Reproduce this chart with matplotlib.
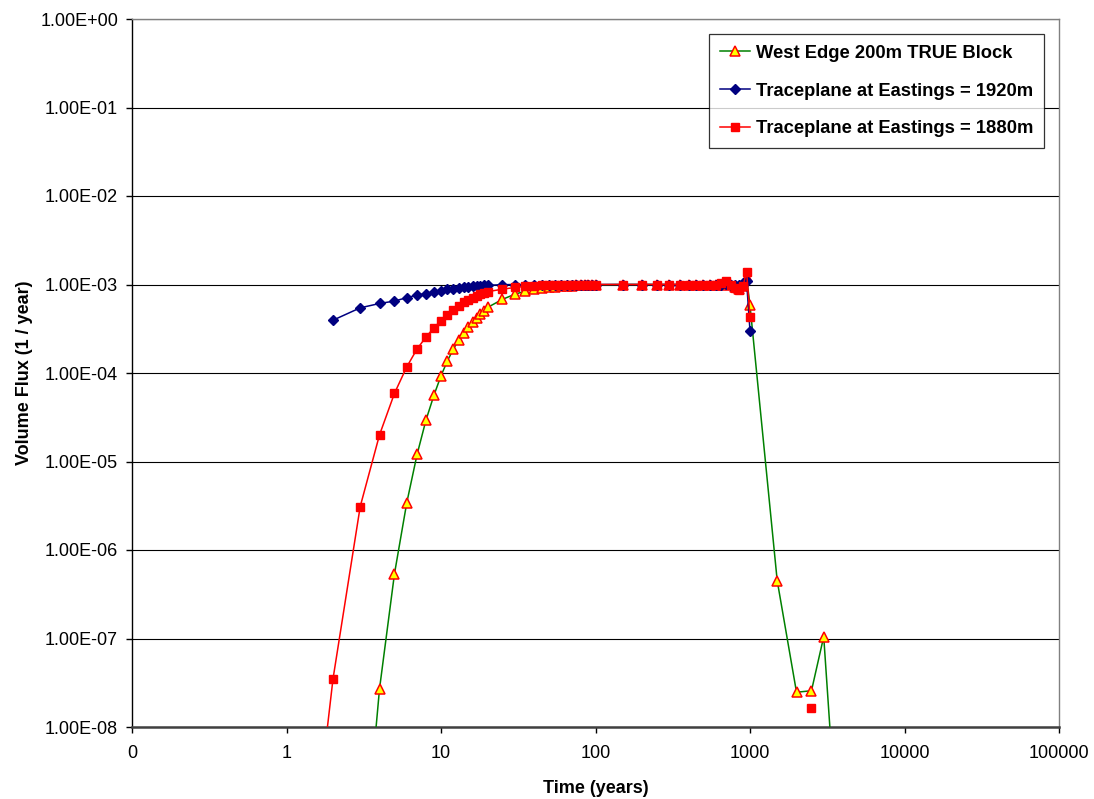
import numpy as np
import matplotlib
matplotlib.use("Agg")
import matplotlib.pyplot as plt
from matplotlib.ticker import FixedLocator, FuncFormatter, NullLocator

plt.rcParams["font.family"] = ["Liberation Sans", "DejaVu Sans"]

# ---- data -----------------------------------------------------------------
# West Edge 200m TRUE Block
t_west = [3, 4, 5, 6, 7, 8, 9, 10, 11, 12, 13, 14, 15, 16, 17, 18, 19, 20,
          25, 30, 35, 40, 45, 50, 55, 60, 65, 70, 75, 80, 85, 90, 95, 100,
          150, 200, 250, 300, 350, 400, 450, 500, 550, 600, 650, 700, 750,
          800, 850, 900, 950, 1000, 1500, 2000, 2500, 3000, 3500]
flux_west = [1.0e-10, 2.7e-8, 5.4e-7, 3.4e-6, 1.2e-5, 2.95e-5, 5.6e-5, 9.3e-5,
             1.37e-4, 1.85e-4, 2.36e-4, 2.85e-4, 3.33e-4, 3.8e-4, 4.2e-4,
             4.6e-4, 5.0e-4, 5.5e-4,
             6.8e-4, 7.75e-4, 8.4e-4, 8.8e-4, 9.1e-4, 9.3e-4, 9.45e-4, 9.55e-4,
             9.65e-4, 9.7e-4, 9.75e-4, 9.8e-4, 9.85e-4, 9.88e-4, 9.9e-4, 9.92e-4,
             1.0e-3, 1.0e-3, 1.0e-3, 1.0e-3, 1.0e-3, 1.0e-3, 1.0e-3, 1.0e-3,
             1.0e-3, 1.0e-3, 1.0e-3, 1.05e-3, 1.0e-3, 9.3e-4, 9.0e-4, 9.6e-4,
             1.2e-3, 5.8e-4, 4.5e-7, 2.47e-8, 2.57e-8, 1.05e-7, 2.0e-9]

# Traceplane at Eastings = 1920m
t_1920 = [2, 3, 4, 5, 6, 7, 8, 9, 10, 11, 12, 13, 14, 15, 16, 17, 18, 19, 20,
          25, 30, 35, 40, 45, 50, 55, 60, 65, 70, 75, 80, 85, 90, 95, 100,
          150, 200, 250, 300, 350, 400, 450, 500, 550, 600, 650, 700, 750,
          800, 850, 900, 950, 1000]
flux_1920 = [3.95e-4, 5.45e-4, 6.1e-4, 6.5e-4, 7.1e-4, 7.6e-4, 7.9e-4, 8.3e-4,
             8.55e-4, 8.8e-4, 8.9e-4, 9.1e-4, 9.25e-4, 9.4e-4, 9.5e-4, 9.6e-4,
             9.65e-4, 9.75e-4, 9.8e-4,
             9.95e-4, 1.0e-3, 1.0e-3, 1.0e-3, 1.0e-3, 1.0e-3, 1.0e-3, 1.0e-3,
             1.0e-3, 1.0e-3, 1.0e-3, 1.0e-3, 1.0e-3, 1.0e-3, 1.0e-3, 1.0e-3,
             1.0e-3, 1.0e-3, 1.0e-3, 1.0e-3, 1.0e-3, 1.0e-3, 1.0e-3, 1.0e-3,
             1.0e-3, 1.0e-3, 1.0e-3, 1.02e-3, 1.0e-3, 1.0e-3, 1.0e-3, 1.05e-3,
             1.1e-3, 3.0e-4]

# Traceplane at Eastings = 1880m (no value at 1500 and 2000)
t_1880 = [1, 2, 3, 4, 5, 6, 7, 8, 9, 10, 11, 12, 13, 14, 15, 16, 17, 18, 19,
          20, 25, 30, 35, 40, 45, 50, 55, 60, 65, 70, 75, 80, 85, 90, 95, 100,
          150, 200, 250, 300, 350, 400, 450, 500, 550, 600, 650, 700, 750,
          800, 850, 900, 950, 1000, 1500, 2000, 2500]
flux_1880 = [1.0e-12, 3.5e-8, 3.1e-6, 2.0e-5, 5.9e-5, 1.17e-4, 1.87e-4, 2.55e-4,
             3.25e-4, 3.9e-4, 4.5e-4, 5.1e-4, 5.7e-4, 6.3e-4, 6.7e-4, 7.1e-4,
             7.5e-4, 7.85e-4, 8.1e-4, 8.3e-4,
             8.85e-4, 9.25e-4, 9.5e-4, 9.65e-4, 9.75e-4, 9.8e-4, 9.85e-4,
             9.88e-4, 9.9e-4, 9.92e-4, 9.94e-4, 9.95e-4, 9.96e-4, 9.97e-4,
             9.98e-4, 1.0e-3,
             1.0e-3, 1.0e-3, 1.0e-3, 1.0e-3, 1.0e-3, 1.0e-3, 1.0e-3, 1.0e-3,
             1.0e-3, 1.0e-3, 1.05e-3, 1.1e-3, 1.0e-3, 9.2e-4, 8.6e-4, 9.5e-4,
             1.4e-3, 4.3e-4, np.nan, np.nan, 1.65e-8]

x_ticks = [0.1, 1, 10, 100, 1000, 10000, 100000]
y_ticks = [1e-8, 1e-7, 1e-6, 1e-5, 1e-4, 1e-3, 1e-2, 1e-1, 1e0]

# ---- figure ---------------------------------------------------------------
fig = plt.figure(figsize=(10.94, 7.99), dpi=100)
ax = fig.add_axes([132 / 1094, 72 / 799, 927 / 1094, 708 / 799])

ax.set_xscale("log")
ax.set_yscale("log")
ax.set_xlim(0.1, 100000)
ax.set_ylim(1e-8, 1e0)

ax.plot(t_west, flux_west, color="#008000", lw=1.1, marker="^", ms=6.5,
        mfc="#ffff00", mec="#ff0000", mew=1.1, label="West Edge 200m TRUE Block",
        zorder=3)
ax.plot(t_1920, flux_1920, color="#000080", lw=1.1, marker="D", ms=5,
        mfc="#000080", mec="#000080", label="Traceplane at Eastings = 1920m",
        zorder=4)
ax.plot(t_1880, flux_1880, color="#ff0000", lw=1.1, marker="s", ms=6,
        mfc="#ff0000", mec="#ff0000", label="Traceplane at Eastings = 1880m",
        zorder=5)

# axes and ticks
ax.xaxis.set_major_locator(FixedLocator(x_ticks))
ax.xaxis.set_minor_locator(NullLocator())
ax.yaxis.set_major_locator(FixedLocator(y_ticks))
ax.yaxis.set_minor_locator(NullLocator())
ax.xaxis.set_major_formatter(FuncFormatter(lambda v, p: "0" if v < 1 else f"{int(round(v))}"))
ax.yaxis.set_major_formatter(FuncFormatter(lambda v, p: f"{v:.2E}"))
ax.tick_params(axis="both", which="major", direction="out", length=4,
               width=1, labelsize=13, colors="black")
ax.tick_params(axis="x", pad=9)
ax.tick_params(axis="y", pad=6)

ax.grid(axis="y", which="major", color="black", lw=0.8, zorder=0)
ax.set_axisbelow(True)

ax.spines["left"].set_color("black")
ax.spines["left"].set_linewidth(1.0)
ax.spines["bottom"].set_color("#404040")
ax.spines["bottom"].set_linewidth(1.8)
for s in ("top", "right"):
    ax.spines[s].set_color("#808080")
    ax.spines[s].set_linewidth(1.0)

ax.set_xlabel("Time (years)", fontsize=13, fontweight="bold", labelpad=13)
ax.set_ylabel("Volume Flux (1 / year)", fontsize=13, fontweight="bold", labelpad=5)

leg = ax.legend(loc="upper right", bbox_to_anchor=(0.984, 0.979), fontsize=13.2,
                frameon=True, fancybox=False, edgecolor="black",
                handlelength=1.64, handletextpad=0.3, labelspacing=1.13,
                borderpad=0.6, borderaxespad=0)
leg.get_frame().set_linewidth(0.9)
for txt in leg.get_texts():
    txt.set_fontweight("bold")

fig.savefig("out.png", dpi=100)
